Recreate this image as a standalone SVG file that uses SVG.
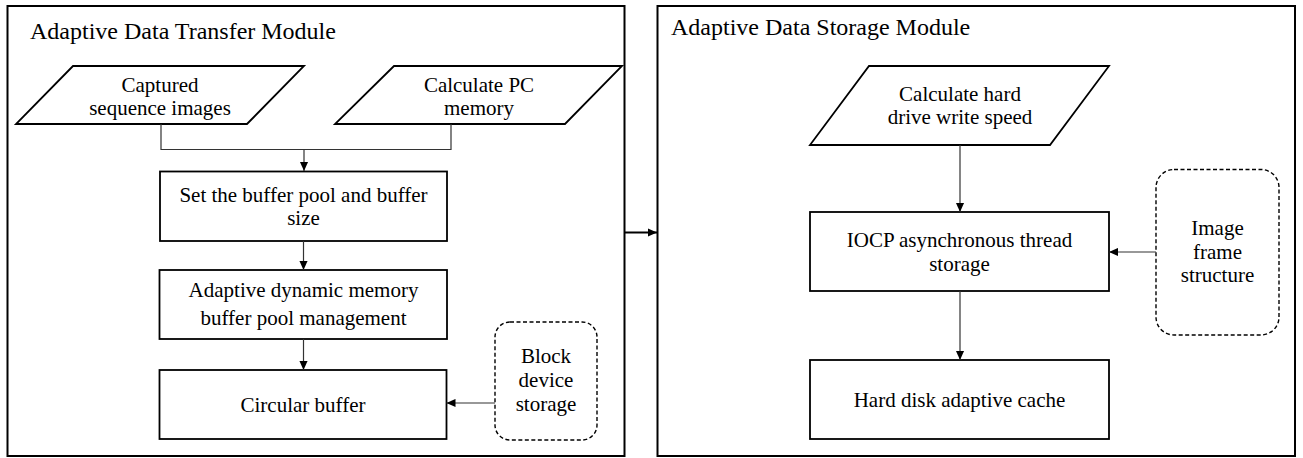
<svg xmlns="http://www.w3.org/2000/svg" width="1303" height="458" viewBox="0 0 1303 458">
<style>
.mod{fill:none;stroke:#000;stroke-width:2}
.box{fill:#fff;stroke:#000;stroke-width:1.8}
.dash{fill:#fff;stroke:#000;stroke-width:1.4;stroke-dasharray:4 2.5}
.t{font-family:"Liberation Serif","Times New Roman",serif;font-size:21px;fill:#000;text-anchor:middle}
.title{font-family:"Liberation Serif","Times New Roman",serif;font-size:24px;fill:#000}
.c{fill:none;stroke:#333;stroke-width:1.2}
</style>
<defs>
<marker id="ah" viewBox="0 0 10 10" refX="10" refY="5" markerWidth="9" markerHeight="9" markerUnits="userSpaceOnUse" orient="auto">
<path d="M0,0.5 L10,5 L0,9.5 z" fill="#000"/>
</marker>
</defs>
<rect width="1303" height="458" fill="#fff"/>
<g id="module-transfer">
<rect class="mod" x="7.5" y="6" width="617" height="450"/>
<text class="title" x="30" y="39">Adaptive Data Transfer Module</text>
</g>
<g id="module-storage">
<rect class="mod" x="657.5" y="6" width="637.5" height="450"/>
<text class="title" x="671" y="35">Adaptive Data Storage Module</text>
</g>
<g id="captured">
<polygon class="box" points="73,66 304,66 247,124 16,124"/>
<text class="t" x="160" y="92">Captured</text>
<text class="t" x="160" y="115">sequence images</text>
</g>
<g id="calc-pc">
<polygon class="box" points="394,66 622,66 565,124 335,124"/>
<text class="t" x="479" y="92">Calculate PC</text>
<text class="t" x="479" y="115">memory</text>
</g>
<g id="set-buffer">
<rect class="box" x="160" y="171.5" width="287" height="69.5"/>
<text class="t" x="303.5" y="202">Set the buffer pool and buffer</text>
<text class="t" x="303.5" y="225">size</text>
</g>
<g id="adaptive-pool">
<rect class="box" x="159.5" y="270" width="287.5" height="69"/>
<text class="t" x="303.5" y="297">Adaptive dynamic memory</text>
<text class="t" x="303.5" y="325">buffer pool management</text>
</g>
<g id="circular">
<rect class="box" x="159.5" y="370" width="287" height="69"/>
<text class="t" x="303" y="412">Circular buffer</text>
</g>
<g id="block-device">
<rect class="dash" x="495" y="322" width="102" height="118" rx="15"/>
<text class="t" x="546" y="363">Block</text>
<text class="t" x="546" y="387">device</text>
<text class="t" x="546" y="411">storage</text>
</g>
<g id="calc-hd">
<polygon class="box" points="869,66 1109,66 1050,145 810,145"/>
<text class="t" x="960" y="101">Calculate hard</text>
<text class="t" x="960" y="124">drive write speed</text>
</g>
<g id="iocp">
<rect class="box" x="810" y="212" width="299" height="79"/>
<text class="t" x="959.5" y="247">IOCP asynchronous thread</text>
<text class="t" x="959.5" y="271">storage</text>
</g>
<g id="hd-cache">
<rect class="box" x="810" y="360" width="299" height="79"/>
<text class="t" x="959.5" y="407">Hard disk adaptive cache</text>
</g>
<g id="image-frame">
<rect class="dash" x="1156" y="169.5" width="123" height="165.5" rx="18"/>
<text class="t" x="1217.5" y="235">Image</text>
<text class="t" x="1217.5" y="259">frame</text>
<text class="t" x="1217.5" y="282">structure</text>
</g>
<g id="connectors">
<polyline class="c" points="161,124 161,149.5 451,149.5 451,124"/>
<line class="c" x1="304" y1="149.5" x2="304" y2="171" marker-end="url(#ah)"/>
<line class="c" x1="303.5" y1="241" x2="303.5" y2="270" marker-end="url(#ah)"/>
<line class="c" x1="303.5" y1="339" x2="303.5" y2="370" marker-end="url(#ah)"/>
<line class="c" x1="495" y1="403" x2="446.5" y2="403" marker-end="url(#ah)"/>
<line x1="624.5" y1="232.5" x2="657" y2="232.5" stroke="#000" stroke-width="2" marker-end="url(#ah)"/>
<line class="c" x1="960" y1="145" x2="960" y2="212" marker-end="url(#ah)"/>
<line class="c" x1="960" y1="291" x2="960" y2="360" marker-end="url(#ah)"/>
<line class="c" x1="1156" y1="252" x2="1109" y2="252" marker-end="url(#ah)"/>
</g>
</svg>
